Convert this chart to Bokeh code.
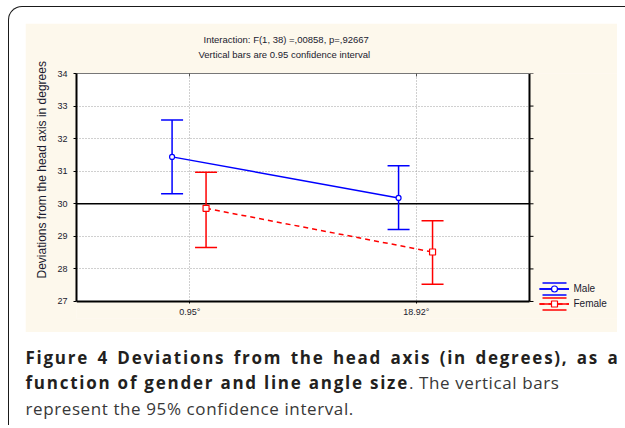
import math
from bokeh.plotting import figure
from bokeh.layouts import column
from bokeh.models import (Range1d, LinearAxis, FixedTicker, Title, BoxAnnotation,
                          Legend, LegendItem, ColumnDataSource, Div)
from bokeh.embed import file_html
from bokeh.resources import INLINE

# ---- data ----
angles = ["0.95°", "18.92°"]
male_mean = [31.44, 30.18]
male_low = [30.31, 29.21]
male_high = [32.57, 31.17]
female_mean = [29.86, 28.52]
female_low = [28.66, 27.53]
female_high = [30.97, 29.48]
y_ticks = [27, 28, 29, 30, 31, 32, 33, 34]
series = ["Male", "Female"]
reference_value = 30

title_lines = ["Interaction: F(1, 38) =,00858, p=,92667",
               "Vertical bars are 0.95 confidence interval"]
y_label = "Deviations from the head axis in degrees"
caption_bold_1 = "Figure 4 Deviations from the head axis (in degrees), as a"
caption_bold_2 = "function of gender and line angle size"
caption_reg_2 = ". The vertical bars"
caption_reg_3 = "represent the 95% confidence interval."

BLUE = "#0000ff"
RED = "#ff0000"
CREAM = "#fdf8ec"
FONT = "Liberation Sans"
TXT = "#1a1a2e"
NAN = float("nan")

# category positions on a numeric scale (category i centred at i + 0.5)
n_cat = len(angles)
cat_pos = [i + 0.5 for i in range(n_cat)]
x_lo, x_hi = 0, n_cat
y_lo, y_hi = y_ticks[0], y_ticks[-1]

p = figure(width=592, height=309, x_range=Range1d(x_lo, x_hi * 1.1943),
           y_range=Range1d(y_lo - 0.522, y_hi),
           output_backend="svg", toolbar_location=None,
           min_border_left=51, min_border_right=0, min_border_top=50, min_border_bottom=14)
p.border_fill_color = CREAM
p.background_fill_color = CREAM
p.outline_line_color = None

# white plotting box (below the grid)
p.add_layout(BoxAnnotation(left=x_lo, right=x_hi, bottom=y_lo, top=y_hi, fill_color="white",
                           fill_alpha=1, line_color=None, level="image"))

# axes
p.yaxis.ticker = FixedTicker(ticks=y_ticks)
p.yaxis.bounds = (y_lo, y_hi)
p.xaxis.ticker = FixedTicker(ticks=cat_pos)
p.xaxis.major_label_overrides = {pos: lab for pos, lab in zip(cat_pos, angles)}
p.xaxis.bounds = (x_lo, x_hi)
p.xaxis.fixed_location = y_lo
for ax in (p.yaxis, p.xaxis):
    ax.axis_line_color = "black"
    ax.axis_line_width = 2
    ax.major_tick_in = 0
    ax.minor_tick_line_color = None
    ax.major_label_text_font = FONT
    ax.major_label_text_font_size = "9px"
    ax.major_label_text_color = TXT
    ax.major_tick_line_color = "black"
p.yaxis.major_tick_out = 3
p.yaxis.major_label_standoff = 6
p.xaxis.major_tick_out = 2
p.xaxis.major_label_standoff = 4

top_ax = LinearAxis(ticker=FixedTicker(ticks=cat_pos), bounds=(x_lo, x_hi),
                    axis_line_color="#777777", axis_line_width=1,
                    major_tick_in=3, major_tick_out=0, major_tick_line_color="#555555",
                    minor_tick_line_color=None,
                    major_label_text_color=None, major_label_text_font_size="1px",
                    major_label_standoff=0)
p.add_layout(top_ax, "above")

p.xgrid.ticker = FixedTicker(ticks=cat_pos)
p.ygrid.ticker = FixedTicker(ticks=y_ticks)
for g in (p.xgrid, p.ygrid):
    g.grid_line_color = "#a0a0a0"
    g.grid_line_dash = "1 2"

# cream masks over grid outside the plotting box
p.add_layout(BoxAnnotation(left=x_hi, fill_color=CREAM, fill_alpha=1, line_color=None,
                           level="underlay"))
p.add_layout(BoxAnnotation(top=y_lo, fill_color=CREAM, fill_alpha=1, line_color=None,
                           level="underlay"))

# right border with outward ticks, reference line
p.segment(x0=[x_hi], y0=[y_lo], x1=[x_hi], y1=[y_hi], line_color="black", line_width=2)
p.ray(x=[x_hi] * len(y_ticks), y=y_ticks, length=4, length_units="screen", angle=0,
      line_color="black", line_width=1)
p.segment(x0=[x_lo], y0=[reference_value], x1=[x_hi], y1=[reference_value],
          line_color="black", line_width=1.5)

# series
key_src = ColumnDataSource(dict(x=[NAN], y=[NAN]))  # legend-key only, never drawn in the plot
items = []
for name, mean, low, high, color, off, dash, mk, msize in [
        ("Male", male_mean, male_low, male_high, BLUE, -0.078, "solid", "circle", 5),
        ("Female", female_mean, female_low, female_high, RED, 0.072, "5 4", "square", 6)]:
    xs = [c + off for c in cat_pos]
    src = ColumnDataSource(dict(x=xs, mean=mean, low=low, high=high))
    line_r = p.line(x="x", y="mean", source=src, line_color=color, line_width=1.5, line_dash=dash)
    p.segment(x0="x", y0="low", x1="x", y1="high", source=src, line_color=color, line_width=1.5)
    p.scatter(x="x", y="high", source=src, marker="dash", size=22, line_color=color, line_width=1.5)
    p.scatter(x="x", y="low", source=src, marker="dash", size=22, line_color=color, line_width=1.5)
    mk_r = p.scatter(x="x", y="mean", source=src, marker=mk, size=msize, fill_color="white",
                     line_color=color, line_width=1.2)
    cap_r = p.rect(x="x", y="y", width=1, height=1, source=key_src, fill_color=None,
                   line_color=color, line_width=1.5, line_dash="24 12")
    vs_r = p.vspan(x="x", source=key_src, line_color=color, line_width=1.5)
    vd_r = p.scatter(x="x", y="y", source=key_src, marker="dash", angle=math.pi / 2,
                     line_color=color, line_width=1.5)
    items.append(LegendItem(label=name, renderers=[cap_r, vs_r, vd_r, line_r, mk_r]))

legend = Legend(items=items, location=(463, 7), orientation="vertical",
                glyph_width=30, glyph_height=15, label_height=15, spacing=0, padding=0,
                margin=0, border_line_color=None, background_fill_alpha=0, label_standoff=5,
                label_text_font=FONT, label_text_font_size="10px", label_text_color=TXT)
p.add_layout(legend)

# titles (above, nearest to frame first)
p.add_layout(Title(text=title_lines[1], align="left", offset=122, text_font=FONT,
                   text_font_size="9.5px", text_font_style="normal", text_color=TXT,
                   standoff=27), "above")
p.add_layout(Title(text=title_lines[0], align="left", offset=127, text_font=FONT,
                   text_font_size="9.5px", text_font_style="normal", text_color=TXT,
                   standoff=-22), "above")
p.add_layout(Title(text=y_label, align="left", offset=40, text_font=FONT,
                   text_font_size="12px", text_font_style="normal", text_color=TXT,
                   standoff=11), "left")

caption_html = (
    '<div style="margin-left:-4px; width:594px">'
    '<div style="text-align:justify; text-align-last:justify; letter-spacing:1.75px; '
    f'font-weight:bold; color:#231f20">{caption_bold_1}</div>'
    f'<div><b style="letter-spacing:1.75px; color:#231f20">{caption_bold_2}</b>'
    f'<span style="letter-spacing:0.6px">{caption_reg_2}</span><br>'
    f'<span style="letter-spacing:0.6px">{caption_reg_3}</span></div></div>'
)
caption = Div(text=caption_html, width=592, height=75,
              styles={"font-family": "'Open Sans', sans-serif", "font-size": "17px",
                      "line-height": "25.5px", "white-space": "nowrap",
                      "color": "#383838", "overflow": "visible"})

root = column(p, caption, spacing=8, margin=(6, 0, 0, 8),
              styles={"border-top": "1.5px solid #1a1a1a", "border-left": "1.5px solid #1a1a1a",
                      "border-top-left-radius": "14px", "padding-top": "15.5px",
                      "padding-left": "15.5px", "background": "white"})

open("out.html", "w").write(file_html(root, INLINE))
